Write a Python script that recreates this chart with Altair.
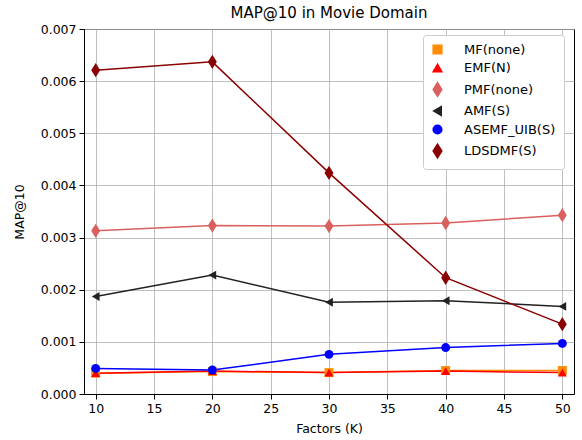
import altair as alt
import pandas as pd

factors = [10, 20, 30, 40, 50]
series_names = ["MF(none)", "EMF(N)", "PMF(none)", "AMF(S)", "ASEMF_UIB(S)", "LDSDMF(S)"]
mf = [0.00040, 0.00043, 0.00041, 0.00045, 0.00045]
emf = [0.00040, 0.00044, 0.00041, 0.00044, 0.00041]
pmf = [0.00313, 0.00323, 0.00322, 0.00328, 0.00343]
amf = [0.00187, 0.00228, 0.00176, 0.00179, 0.00168]
asemf = [0.00049, 0.00046, 0.00076, 0.00089, 0.00097]
ldsdmf = [0.00621, 0.00637, 0.00424, 0.00223, 0.00134]

colors = ["#ff8c00", "#ff0000", "#d9605e", "#222222", "#0000ff", "#8b0000"]
thin_diamond = "M0,-1.6L1,0L0,1.6L-1,0Z"
shapes = ["square", "triangle-up", thin_diamond, "triangle-left", "circle", thin_diamond]

rows = []
for name, vals in zip(series_names, [mf, emf, pmf, amf, asemf, ldsdmf]):
    for k, v in zip(factors, vals):
        rows.append({"Factors": k, "MAP": v, "Method": name})
df = pd.DataFrame(rows)

font = "DejaVu Sans"

x = alt.X("Factors:Q", title="Factors (K)",
          scale=alt.Scale(domain=[9, 51], nice=False, zero=False),
          axis=alt.Axis(values=[10, 15, 20, 25, 30, 35, 40, 45, 50], format="d"))
y = alt.Y("MAP:Q", title="MAP@10",
          scale=alt.Scale(domain=[0, 0.007], nice=False),
          axis=alt.Axis(values=[0, 0.001, 0.002, 0.003, 0.004, 0.005, 0.006, 0.007], format=".3f",
                        titlePadding=14))
color = alt.Color("Method:N", scale=alt.Scale(domain=series_names, range=colors),
                  legend=alt.Legend(title=None))
shape = alt.Shape("Method:N", scale=alt.Scale(domain=series_names, range=shapes),
                  legend=alt.Legend(title=None))

base = alt.Chart(df)
lines = base.mark_line(strokeWidth=1.5).encode(x=x, y=y, color=color, detail="Method:N")
points = base.mark_point(filled=True, size=80, opacity=1).encode(x=x, y=y, color=color, shape=shape)

chart = alt.layer(lines, points).properties(
    width=490, height=365,
    title=alt.TitleParams("MAP@10 in Movie Domain", fontSize=15, font=font,
                          fontWeight="normal", color="black", anchor="middle", offset=2),
    autosize=alt.AutoSizeParams(type="none"),
    padding={"left": 84, "top": 29, "right": 8, "bottom": 46},
).configure_view(
    stroke="black", strokeWidth=1
).configure_axis(
    labelFont=font, titleFont=font, labelFontSize=12.5, titleFontSize=12.5,
    labelColor="black", titleColor="black", titleFontWeight="normal",
    domainColor="black", tickColor="black", tickSize=5, labelPadding=3,
    gridColor="#b0b0b0", gridWidth=0.8, titlePadding=8
).configure_legend(
    orient="none", legendX=339, legendY=6,
    labelFont=font, labelFontSize=13, labelColor="black",
    fillColor="white", strokeColor="#cccccc", cornerRadius=3, padding=8,
    symbolSize=75, rowPadding=3.5, symbolOpacity=1, labelOffset=20
)

chart.save("out.html", embed_options={"renderer": "svg", "actions": False})
